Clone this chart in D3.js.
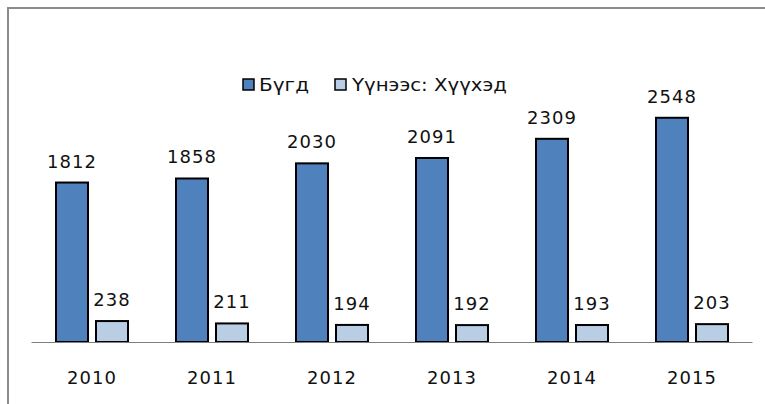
<!DOCTYPE html>
<html>
<head>
<meta charset="utf-8">
<script src="https://cdn.jsdelivr.net/npm/d3@7"></script>
<style>
  body { margin: 0; background: #fff; }
  svg { display: block; font-family: "DejaVu Sans", Verdana, sans-serif; }
</style>
</head>
<body>
<svg width="765" height="404"></svg>
<script>
// data
const years = ["2010", "2011", "2012", "2013", "2014", "2015"];
const total = [1812, 1858, 2030, 2091, 2309, 2548];
const children = [238, 211, 194, 192, 193, 203];
const seriesNames = ["Бүгд", "Үүнээс: Хүүхэд"];

const COLORS = ["#4F81BD", "#B9CDE5"];

var svg = d3.select("svg"),
    width = +svg.attr("width"),
    height = +svg.attr("height");

// frame (chart box cut off at right / bottom)
svg.append("path")
  .attr("d", "M8,404 V8 H765")
  .attr("fill", "none")
  .attr("stroke", "#8c8c8c")
  .attr("stroke-width", 2);

var x = d3.scaleBand().domain(years).range([32, 752]).paddingInner(0).paddingOuter(0);
var x1 = d3.scaleBand().domain([0, 1]).range([24, 96]).paddingInner(0.2);
var y = d3.scaleLinear().domain([0, 3000]).range([342, 78]);

var rows = years.map((yr, i) => ({ year: yr, values: [total[i], children[i]] }));

var groups = svg.append("g").selectAll("g")
  .data(rows)
  .enter().append("g")
  .attr("transform", d => "translate(" + x(d.year) + ",0)");

groups.selectAll("rect")
  .data(d => d.values.map((v, k) => ({ k: k, v: v })))
  .enter().append("rect")
  .attr("x", d => x1(d.k))
  .attr("y", d => y(d.v))
  .attr("width", x1.bandwidth())
  .attr("height", d => y(0) - y(d.v))
  .attr("fill", d => COLORS[d.k])
  .attr("stroke", "#000")
  .attr("stroke-width", 2);

groups.selectAll("text")
  .data(d => d.values.map((v, k) => ({ k: k, v: v })))
  .enter().append("text")
  .attr("x", d => x1(d.k) + x1.bandwidth() / 2)
  .attr("y", d => y(d.v) - 15)
  .attr("text-anchor", "middle")
  .attr("font-size", 18)
  .attr("letter-spacing", 1)
  .attr("fill", "#111")
  .text(d => d.v);

// x axis
var xAxis = svg.append("g")
  .attr("transform", "translate(0," + y(0) + ")")
  .call(d3.axisBottom(x).tickSize(0).tickPadding(29));
xAxis.select(".domain").attr("stroke", "#808080").attr("d", "M31.5,0.5H752.5");
xAxis.selectAll("text")
  .attr("font-size", 18)
  .attr("letter-spacing", 1)
  .attr("fill", "#111")
  .attr("font-family", "DejaVu Sans, Verdana, sans-serif");

// legend
var legendX = [243, 335];
var legendW = [50, 155];
var legend = svg.append("g").selectAll("g")
  .data(seriesNames)
  .enter().append("g")
  .attr("transform", (d, i) => "translate(" + legendX[i] + ",79)");

legend.append("rect")
  .attr("width", 11)
  .attr("height", 11)
  .attr("fill", (d, i) => COLORS[i])
  .attr("stroke", "#000")
  .attr("stroke-width", 1.5);

legend.append("text")
  .attr("x", (d, i) => i === 0 ? 16 : 17)
  .attr("y", 12)
  .attr("font-size", 17)
  .attr("textLength", (d, i) => legendW[i])
  .attr("lengthAdjust", "spacingAndGlyphs")
  .attr("fill", "#111")
  .text(d => d);
</script>
</body>
</html>
